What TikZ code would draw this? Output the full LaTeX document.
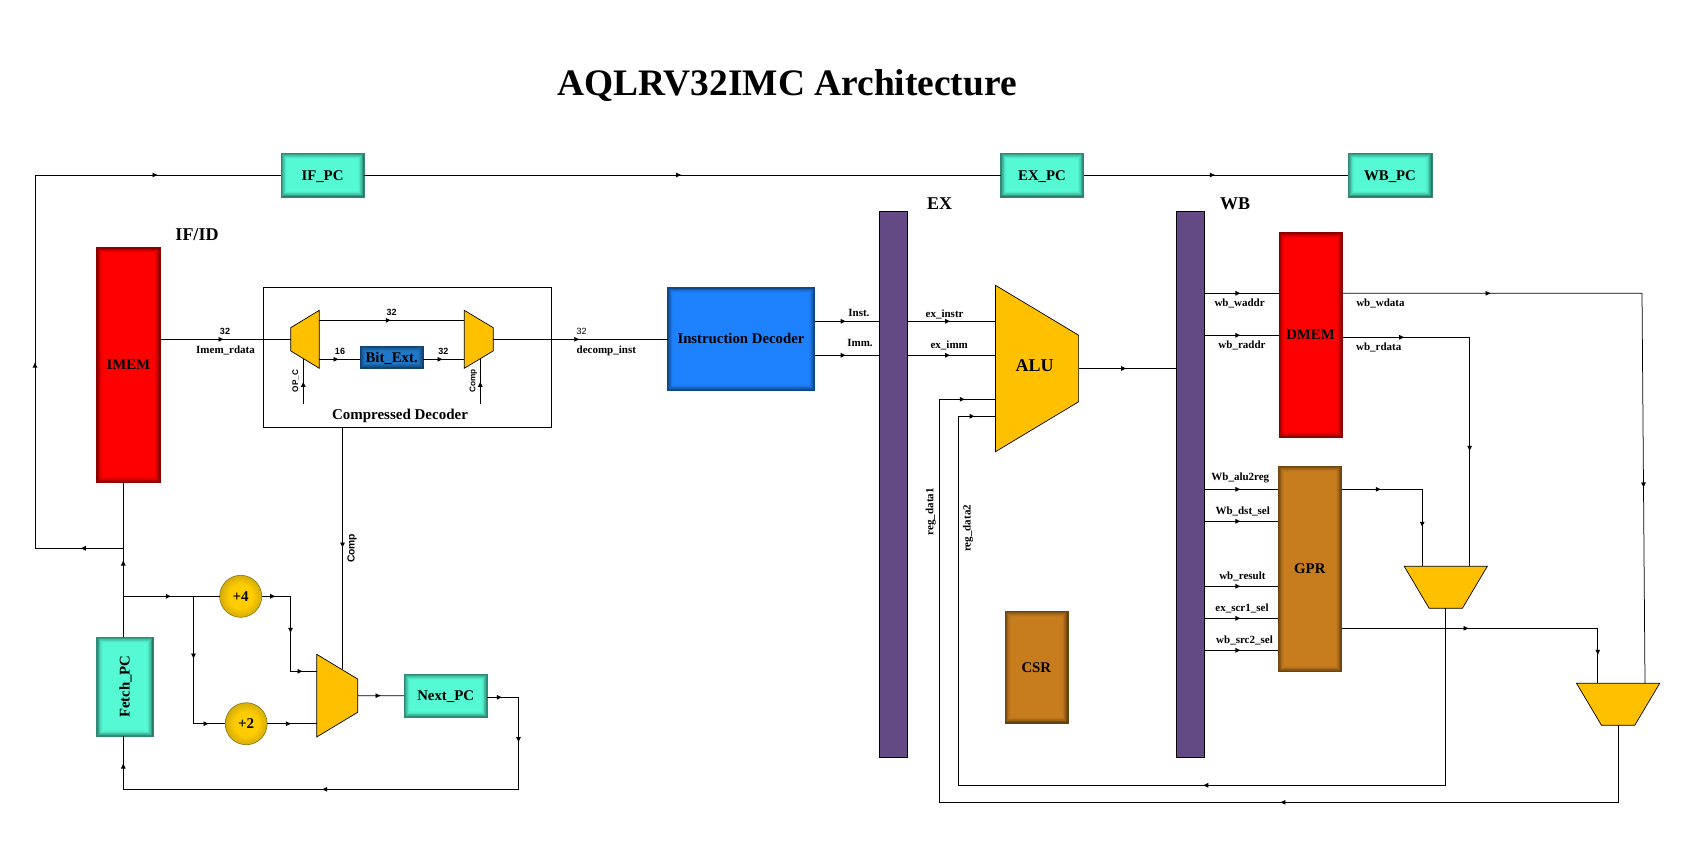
\documentclass[tikz,border=0pt]{standalone}
\usepackage{fontspec}
\usepackage{graphicx}
\setmainfont{Liberation Serif}
\newfontfamily\lsans{Liberation Sans}
\usetikzlibrary{arrows.meta,decorations.markings}
\newcommand\fsz[1]{\fontsize{#1}{#1}\selectfont}
\definecolor{teal}{HTML}{55F9D4}
\definecolor{memred}{HTML}{FF0000}
\definecolor{idblue}{HTML}{1E82FF}
\definecolor{bitblue}{HTML}{1F78C8}
\definecolor{brownb}{HTML}{C77D1E}
\definecolor{barp}{HTML}{634A85}
\definecolor{muxy}{HTML}{FFC000}
\definecolor{addin}{HTML}{FFCC00}
\definecolor{addout}{HTML}{AE9210}
\pgfdeclareradialshading{addball}{\pgfpoint{0bp}{0bp}}{color(0bp)=(addin); color(14bp)=(addin); color(35bp)=(addout); color(50bp)=(addout)}
\newdimen\mxa \newdimen\mxb \newdimen\mya \newdimen\myb \newdimen\mdx \newdimen\mdy
\makeatletter
\def\muxcorners{%
  \southwest \mxa=\pgf@x \mya=\pgf@y
  \northeast \mxb=\pgf@x \myb=\pgf@y
  \mdx=\mxb \advance\mdx by-\mxa \mdx=.3\mdx
  \mdy=\myb \advance\mdy by-\mya \mdy=.3\mdy}
\def\muxanchors{%
  \inheritsavedanchors[from=rectangle]
  \inheritanchorborder[from=rectangle]
  \inheritanchor[from=rectangle]{center}
  \inheritanchor[from=rectangle]{north}
  \inheritanchor[from=rectangle]{south}
  \inheritanchor[from=rectangle]{east}
  \inheritanchor[from=rectangle]{west}}
\pgfdeclareshape{muxwideright}{\muxanchors
  \backgroundpath{\muxcorners
    \advance\mya by\mdy \advance\myb by-\mdy
    \pgfpathmoveto{\pgfqpoint{\mxa}{\mya}}
    \pgfpathlineto{\pgfqpoint{\mxa}{\myb}}
    \advance\mya by-\mdy \advance\myb by\mdy
    \pgfpathlineto{\pgfqpoint{\mxb}{\myb}}
    \pgfpathlineto{\pgfqpoint{\mxb}{\mya}}
    \pgfpathclose}}
\pgfdeclareshape{muxwideleft}{\muxanchors
  \backgroundpath{\muxcorners
    \pgfpathmoveto{\pgfqpoint{\mxa}{\mya}}
    \pgfpathlineto{\pgfqpoint{\mxa}{\myb}}
    \advance\mya by\mdy \advance\myb by-\mdy
    \pgfpathlineto{\pgfqpoint{\mxb}{\myb}}
    \pgfpathlineto{\pgfqpoint{\mxb}{\mya}}
    \pgfpathclose}}
\pgfdeclareshape{muxwidetop}{\muxanchors
  \backgroundpath{\muxcorners
    \pgfpathmoveto{\pgfqpoint{\mxa}{\myb}}
    \pgfpathlineto{\pgfqpoint{\mxb}{\myb}}
    \advance\mxb by-\mdx \advance\mxa by\mdx
    \pgfpathlineto{\pgfqpoint{\mxb}{\mya}}
    \pgfpathlineto{\pgfqpoint{\mxa}{\mya}}
    \pgfpathclose}}
\makeatother
\tikzset{
  >={Latex[length=5.5pt,width=5pt]},
  wire/.style={draw=black,line width=.75pt},
  ah/.style={postaction={decorate,decoration={markings,mark=at position #1pt+3pt with {\arrow{>}}}}},
  gbox/.style={rectangle,inner sep=0pt,outer sep=0pt,draw=#1!55!black,line width=.5pt,
    font=\bfseries\fsz{14.8},
    path picture={
      \foreach \i/\p in {0/48,.6/56,1.2/64,1.8/71,2.4/78,3/84,3.6/89,4.2/93,4.8/96,5.4/98,6/100}{
        \fill[#1!\p!black] ([shift={(\i pt,\i pt)}]path picture bounding box.south west)
          rectangle ([shift={(-\i pt,-\i pt)}]path picture bounding box.north east);
      }}},
  capbox/.style={text height=10pt,text depth=0pt},
  barbox/.style={rectangle,draw=black,line width=.75pt,fill=barp,inner sep=0pt,outer sep=0pt,minimum width=27.8pt,minimum height=546pt},
  muxbase/.style={draw=black,line width=.7pt,fill=muxy,inner sep=0pt,outer sep=0pt},
  adder/.style={circle,draw=addout!80!black,line width=.6pt,inner sep=0pt,outer sep=0pt,minimum size=42pt,
    shading=addball,font=\bfseries\fsz{15}},
  sig/.style={font=\bfseries\fsz{11},inner sep=0pt,yshift=-.7pt},
  stage/.style={font=\bfseries\fsz{18},inner sep=0pt},
  width/.style={font=\lsans\bfseries\fsz{9},inner sep=0pt},
  ctl/.style={font=\lsans\bfseries\fsz{8.2},inner sep=0pt,rotate=90},
}
\begin{document}
\begin{tikzpicture}[x=1pt,y=-1pt]
\useasboundingbox (0,0) rectangle (1705,841);
\node[font=\bfseries\fsz{37.4},inner sep=0pt] (title) at (787,85.5) {AQLRV32IMC Architecture};
% boxes
\node[gbox=teal,capbox,minimum width=83pt,minimum height=44pt] (ifpc) at (322.5,175) {IF\_PC};
\node[gbox=teal,capbox,minimum width=83pt,minimum height=44pt] (expc) at (1042,175) {EX\_PC};
\node[gbox=teal,capbox,minimum width=83.6pt,minimum height=44pt] (wbpc) at (1390,175) {WB\_PC};
\node[gbox=memred,capbox,minimum width=63.3pt,minimum height=235pt] (imem) at (128.35,364.8) {IMEM};
\node[gbox=teal,minimum width=56.3pt,minimum height=99.3pt] (fetch) at (124.85,686.65) {\hspace*{1.5pt}\rotatebox{90}{Fetch\_PC}};
\node[gbox=teal,capbox,minimum width=83.3pt,minimum height=43.3pt] (next) at (445.65,695.7) {Next\_PC};
\node[draw=black,line width=.8pt,rectangle,inner sep=0pt,outer sep=0pt,minimum width=288pt,minimum height=140pt] (decoder) at (407,357.3) {};
\node[font=\bfseries\fsz{15},inner sep=0pt] (declabel) at (400,416) {Compressed Decoder};
\node[gbox=bitblue,capbox,minimum width=63.3pt,minimum height=22.3pt] (bitext) at (391.65,357.15) {Bit\_Ext.};
\node[gbox=idblue,capbox,minimum width=147pt,minimum height=103pt] (idec) at (741,338.8) {Instruction Decoder};
\node[gbox=memred,capbox,minimum width=63.4pt,minimum height=205pt] (dmem) at (1310.5,334.8) {DMEM};
\node[gbox=brownb,capbox,minimum width=63.4pt,minimum height=205.7pt] (gpr) at (1309.8,568.85) {GPR};
\node[gbox=brownb,capbox,minimum width=63pt,minimum height=112pt] (csr) at (1036.3,667) {CSR};
\node[barbox] (exbar) at (893.55,484.3) {};
\node[barbox] (wbbar) at (1190,484.3) {};
% muxes
\node[muxbase,shape=muxwideright,minimum width=28.6pt,minimum height=58pt] (mux1) at (305,339.3) {};
\node[muxbase,shape=muxwideleft,minimum width=29pt,minimum height=58pt] (mux2) at (478.8,339.3) {};
\node[muxbase,shape=muxwideleft,minimum width=41.1pt,minimum height=82.7pt] (mux3) at (337.25,695.65) {};
\node[muxbase,shape=muxwideleft,minimum width=83.1pt,minimum height=166.4pt] (alu) at (1037.05,368.5) {};
\node[font=\bfseries\fsz{18},inner sep=0pt] (alulabel) at (1034.6,365.5) {ALU};
\node[muxbase,shape=muxwidetop,minimum width=83.1pt,minimum height=42pt] (mux4) at (1445.75,587.3) {};
\node[muxbase,shape=muxwidetop,minimum width=83.2pt,minimum height=42pt] (mux5) at (1618.1,704.3) {};
\node[adder] (plus4) at (240.7,596.3) {+4};
\node[adder] (plus2) at (246.2,723.7) {+2};
% routing points
\coordinate (xtrunk) at (123.3,0);
\coordinate (nbr) at (123.3,548.3);
\coordinate (cl) at (35,175);
\coordinate (ya) at (0,320.3);
\coordinate (yb) at (0,359.3);
\coordinate (opa) at (303.3,403.7);
\coordinate (opb) at (303.3,358.8);
\coordinate (cpa) at (480.3,403.7);
\coordinate (cpb) at (480.3,358.6);
\coordinate (xctl) at (342.5,0);
\coordinate (ctlend) at (342.5,669.4);
\coordinate (nsplit) at (123.3,596.3);
\coordinate (nsplit2) at (193.5,596.3);
\coordinate (c12) at (290.5,671.3);
\coordinate (nout) at (487.3,697.3);
\coordinate (cnr) at (518.5,789.3);
\coordinate (yi) at (0,321.3);
\coordinate (yj) at (0,355.3);
\coordinate (ywa) at (0,293.3);
\coordinate (yra) at (0,335.3);
\coordinate (c20a) at (1642,293.3);
\coordinate (c20b) at (1645,683.3);
\coordinate (c21s) at (1342.2,337.3);
\coordinate (c21a) at (1469.6,566.3);
\coordinate (y1) at (0,489.3);
\coordinate (y2) at (0,521.3);
\coordinate (y3) at (0,586.3);
\coordinate (y4) at (0,618.3);
\coordinate (y5) at (0,650.3);
\coordinate (c23) at (1422.2,566.3);
\coordinate (y6) at (0,628.3);
\coordinate (c24) at (1597.8,683.3);
\coordinate (c25) at (958.7,785.3);
\coordinate (c25b) at (995.5,416.3);
\coordinate (c26) at (939.3,802.3);
\coordinate (c26b) at (995.5,399.3);
% wires
\draw[wire,ah=40,ah=271.6,ah=581.6] (nbr) -| (cl) -- (ifpc.west);
\draw[wire,ah=74] (fetch.north -| xtrunk) -- (imem.south -| xtrunk);
\draw[wire,ah=314.6] (ifpc.east) -- (expc.west);
\draw[wire,ah=128.8] (expc.east) -- (wbpc.west);
\draw[wire,ah=61] (imem.east |- mux1.west) -- (mux1.west);
\draw[wire,ah=69] (mux1.east |- ya) -- (mux2.west |- ya);
\draw[wire,ah=16.7] (mux1.east |- yb) -- (bitext.west |- yb);
\draw[wire,ah=16.7] (bitext.east |- yb) -- (mux2.west |- yb);
\draw[wire,ah=83.5] (mux2.east) -- (mux2.east -| idec.west);
\draw[wire,ah=19.4] (opa) -- (opb);
\draw[wire,ah=19.4] (cpa) -- (cpb);
\draw[wire,ah=117.7] (decoder.south -| xctl) -- (ctlend);
\draw[wire,ah=45.1] (nsplit) -- (plus4.west);
\draw[wire,ah=59.8,ah=139.9] (nsplit2) |- (plus2.west);
\draw[wire,ah=11,ah=62.8,ah=113.3] (plus4.east) -| (c12) -- (mux3.west |- c12);
\draw[wire,ah=21.2] (plus2.east) -- (mux3.west |- plus2.east);
\draw[wire,ah=20.2] (mux3.east) -- (next.west);
\draw[wire,ah=12,ah=73.6,ah=317,ah=541.7] (nout) -| (cnr) -| (fetch.south -| xtrunk);
\draw[wire,ah=28.7] (idec.east |- yi) -- (exbar.west |- yi);
\draw[wire,ah=28.7] (idec.east |- yj) -- (exbar.west |- yj);
\draw[wire,ah=40.2] (exbar.east |- yi) -- (alu.west |- yi);
\draw[wire,ah=40.2] (exbar.east |- yj) -- (alu.west |- yj);
\draw[wire,ah=45.1] (alu.east) -- (alu.east -| wbbar.west);
\draw[wire,ah=34] (wbbar.east |- ywa) -- (dmem.west |- ywa);
\draw[wire,ah=34] (wbbar.east |- yra) -- (dmem.west |- yra);
\draw[wire,ah=145.8,ah=491.5] (dmem.east |- ywa) -- (c20a) -- (c20b);
\draw[wire,ah=59.5,ah=238.4] (c21s) -| (c21a);
\draw[wire,ah=34] (wbbar.east |- y1) -- (gpr.west |- y1);
\draw[wire,ah=34] (wbbar.east |- y2) -- (gpr.west |- y2);
\draw[wire,ah=34] (wbbar.east |- y3) -- (gpr.west |- y3);
\draw[wire,ah=34] (wbbar.east |- y4) -- (gpr.west |- y4);
\draw[wire,ah=34] (wbbar.east |- y5) -- (gpr.west |- y5);
\draw[wire,ah=36.8,ah=115.7] (gpr.east |- y1) -| (c23);
\draw[wire,ah=124.5,ah=280.3] (gpr.east |- y6) -| (c24);
\draw[wire,ah=417,ah=1046.5] (mux4.south) |- (c25) |- (c25b);
\draw[wire,ah=412.2,ah=1181.8] (mux5.south) |- (c26) |- (c26b);
% labels
\node[stage] (lifid) at (197,235) {IF/ID};
\node[stage] (lex) at (939.6,203.3) {EX};
\node[stage] (lwb) at (1235,203.3) {WB};
\node[width] (w1) at (225,331.7) {32};
\node[width] (w2) at (391.7,312.3) {32};
\node[width] (w3) at (340,351.7) {16};
\node[width] (w4) at (443.3,351.7) {32};
\node[font=\lsans\fsz{9},inner sep=0pt] (w5) at (581.5,331.7) {32};
\node[ctl] (lopc) at (295.7,381) {OP\_C};
\node[ctl] (lcomp1) at (473.3,381) {Comp};
\node[font=\lsans\bfseries\fsz{10.3},inner sep=0pt,rotate=90] (lcomp2) at (352,548.3) {Comp};
\node[sig] at (225.5,350) {Imem\_rdata};
\node[sig] at (606.3,350.3) {decomp\_inst};
\node[sig] at (858.9,312.3) {Inst.};
\node[sig] at (860,342.3) {Imm.};
\node[sig] at (944.6,313.7) {ex\_instr};
\node[sig] at (949.2,344.7) {ex\_imm};
\node[sig,rotate=90] at (930.7,511) {reg\_data1};
\node[sig,rotate=90] at (968,527.7) {reg\_data2};
\node[sig] at (1239.6,302.7) {wb\_waddr};
\node[sig] at (1242,344.7) {wb\_raddr};
\node[sig] at (1380.4,302.7) {wb\_wdata};
\node[sig] at (1378.7,346.7) {wb\_rdata};
\node[sig] at (1240.3,477.3) {Wb\_alu2reg};
\node[sig] at (1242.7,510.3) {Wb\_dst\_sel};
\node[sig] at (1242.4,575.3) {wb\_result};
\node[sig] at (1242,607.7) {ex\_scr1\_sel};
\node[sig] at (1244.5,639.3) {wb\_src2\_sel};
\end{tikzpicture}
\end{document}
